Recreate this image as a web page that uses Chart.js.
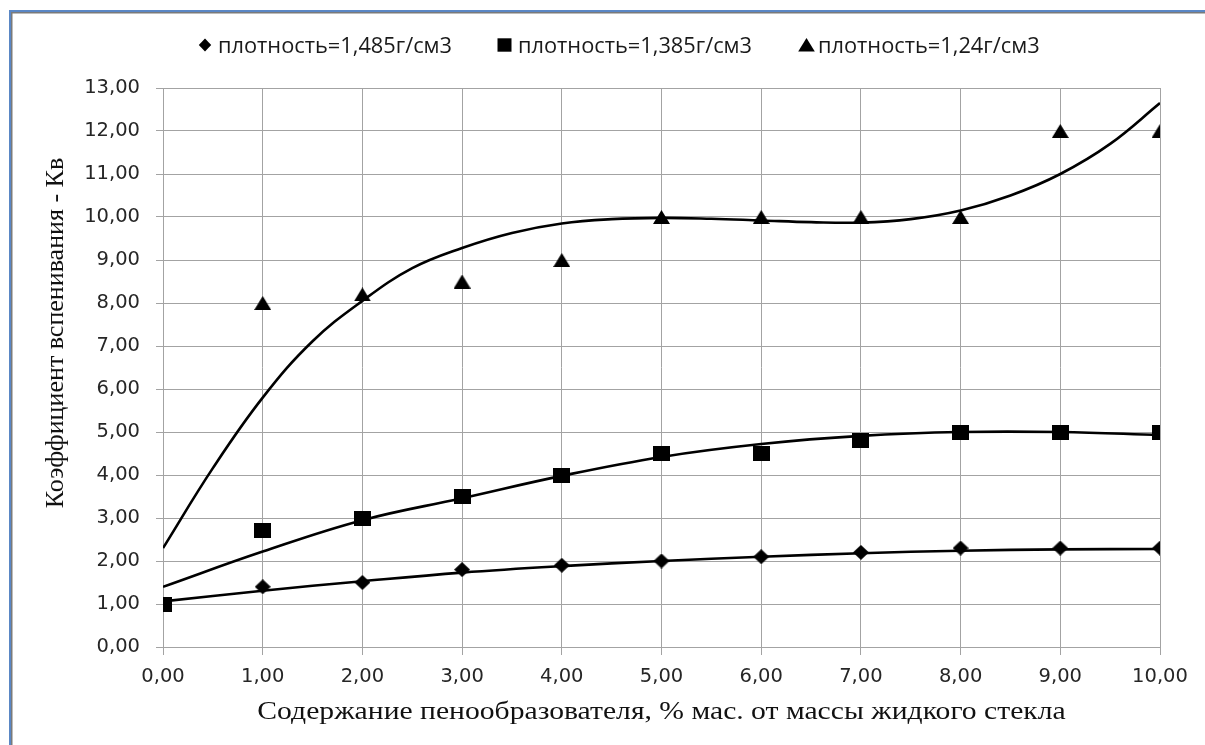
<!DOCTYPE html>
<html>
<head>
<meta charset="utf-8">
<script src="https://cdn.jsdelivr.net/npm/chart.js@4.4.1/dist/chart.umd.min.js"></script>
<style>
html,body{margin:0;padding:0;background:#ffffff;}
canvas{display:block;}
</style>
</head>
<body>
<canvas id="chart" width="1205" height="745"></canvas>
<script>
// ---- data ----
const xValues = [0, 1, 2, 3, 4, 5, 6, 7, 8, 9, 10];
const density1485 = [1.0, 1.4, 1.5, 1.8, 1.9, 2.0, 2.1, 2.2, 2.3, 2.3, 2.3];
const density1385 = [1.0, 2.7, 3.0, 3.5, 4.0, 4.5, 4.5, 4.8, 5.0, 5.0, 5.0];
const density124  = [1.0, 8.0, 8.2, 8.5, 9.0, 10.0, 10.0, 10.0, 10.0, 12.0, 12.0];

// trend lines
const trend1485X = [0, 1, 2, 3, 4, 5, 6, 7, 8, 9, 10];
const trend1485Y = [1.06, 1.31, 1.53, 1.73, 1.88, 2.0, 2.1, 2.18, 2.24, 2.27, 2.28];
const trend1385X = [0, 1, 2, 3, 4, 5, 6, 7, 8, 9, 10];
const trend1385Y = [1.4, 2.22, 2.95, 3.46, 3.98, 4.42, 4.72, 4.91, 5.0, 5.0, 4.93];
const trend124X  = [0, 0.5, 1, 1.5, 2, 2.5, 3, 3.5, 4, 4.5, 5, 5.5, 6, 6.5, 7, 7.5, 8, 8.5, 9, 9.5, 10];
const trend124Y  = [2.3, 4.16, 5.8, 7.11, 8.05, 8.81, 9.28, 9.63, 9.85, 9.95, 9.98, 9.96, 9.92, 9.88, 9.87, 9.95, 10.15, 10.5, 11.0, 11.7, 12.65];

const seriesLabels = ['плотность=1,485г/см3', 'плотность=1,385г/см3', 'плотность=1,24г/см3'];
const xTickLabels = ['0,00','1,00','2,00','3,00','4,00','5,00','6,00','7,00','8,00','9,00','10,00'];
const yTickLabels = ['0,00','1,00','2,00','3,00','4,00','5,00','6,00','7,00','8,00','9,00','10,00','11,00','12,00','13,00'];
const xTitle = 'Содержание пенообразователя, % мас. от массы жидкого стекла';
const yTitle = 'Коэффициент вспенивания - Кв';

// ---- marker images ----
function makeMarker(shape, w, h) {
  const c = document.createElement('canvas');
  c.width = w; c.height = h;
  const g = c.getContext('2d');
  g.fillStyle = '#000000';
  g.beginPath();
  if (shape === 'diamond') {
    g.moveTo(w / 2, 0); g.lineTo(w, h / 2); g.lineTo(w / 2, h); g.lineTo(0, h / 2);
  } else if (shape === 'square') {
    g.rect(0, 0, w, h);
  } else {
    g.moveTo(w / 2, 0); g.lineTo(w, h); g.lineTo(0, h);
  }
  g.closePath();
  g.fill();
  return c;
}
const diamondImg = makeMarker('diamond', 16, 15);
const squareImg = makeMarker('square', 17, 15);
const triangleImg = makeMarker('triangle', 17, 14);

// ---- build datasets ----
const toPts = (xs, ys) => xs.map((x, i) => ({x: x, y: ys[i]}));
const GRID = '#a3a3a3';
const BLACK = '#000000';

const markerSet = (label, ys, img, order) => ({
  label: label,
  data: toPts(xValues, ys),
  showLine: false,
  pointStyle: img,
  pointRadius: 8,
  pointHoverRadius: 8,
  pointBackgroundColor: BLACK,
  pointBorderColor: BLACK,
  pointBorderWidth: 0,
  order: order
});
const trendSet = (xs, ys) => ({
  label: '',
  data: toPts(xs, ys),
  showLine: true,
  borderColor: BLACK,
  borderWidth: 2.6,
  pointRadius: 0,
  tension: 0.4,
  fill: false,
  order: 5
});

// plugin: border frame, legend, axis titles
const decorations = {
  id: 'decorations',
  beforeDraw(chart) {
    const ctx = chart.ctx;
    ctx.save();
    ctx.fillStyle = '#ffffff';
    ctx.fillRect(0, 0, chart.width, chart.height);
    ctx.fillStyle = '#5a87c5';
    ctx.fillRect(9, 10, chart.width - 9, 2);
    ctx.fillRect(9, 10, 2, chart.height - 10);
    ctx.fillStyle = '#7a7a7a';
    ctx.fillRect(11, 12, chart.width - 11, 1.5);
    ctx.fillRect(11, 12, 1.5, chart.height - 12);
    ctx.restore();
  },
  afterDraw(chart) {
    const ctx = chart.ctx;
    const area = chart.chartArea;
    ctx.save();
    // legend
    const legendY = 45;
    const items = [
      {style: 'diamond', cx: 205, tx: 218},
      {style: 'square', cx: 504.5, tx: 518},
      {style: 'triangle', cx: 806.5, tx: 818}
    ];
    items.forEach((it, i) => {
      ctx.fillStyle = BLACK;
      ctx.beginPath();
      if (it.style === 'diamond') {
        ctx.moveTo(it.cx, legendY - 6.5);
        ctx.lineTo(it.cx + 6.2, legendY);
        ctx.lineTo(it.cx, legendY + 6.5);
        ctx.lineTo(it.cx - 6.2, legendY);
      } else if (it.style === 'square') {
        ctx.rect(it.cx - 7, legendY - 6.7, 14, 13.4);
      } else {
        ctx.moveTo(it.cx, legendY - 7);
        ctx.lineTo(it.cx + 8.3, legendY + 6.5);
        ctx.lineTo(it.cx - 8.3, legendY + 6.5);
      }
      ctx.closePath();
      ctx.fill();
      ctx.font = '21.8px "Open Sans"';
      ctx.fillStyle = '#1a1a1a';
      ctx.textBaseline = 'alphabetic';
      ctx.textAlign = 'left';
      ctx.fillText(seriesLabels[i], it.tx, legendY + 7.7);
    });
    // x axis title (slightly widened like the reference)
    ctx.font = '26px "Liberation Serif"';
    ctx.fillStyle = '#111111';
    ctx.textAlign = 'center';
    ctx.textBaseline = 'alphabetic';
    ctx.save();
    ctx.translate((area.left + area.right) / 2, 719);
    ctx.scale(1.14, 1);
    ctx.fillText(xTitle, 0, 0);
    ctx.restore();
    // y axis title
    ctx.save();
    ctx.translate(62.5, 333);
    ctx.rotate(-Math.PI / 2);
    ctx.fillText(yTitle, 0, 0);
    ctx.restore();
    ctx.restore();
  }
};

const chart = new Chart(document.getElementById('chart'), {
  type: 'scatter',
  data: {
    datasets: [
      markerSet(seriesLabels[0], density1485, diamondImg, 2),
      markerSet(seriesLabels[1], density1385, squareImg, 1),
      markerSet(seriesLabels[2], density124, triangleImg, 3),
      trendSet(trend1485X, trend1485Y),
      trendSet(trend1385X, trend1385Y),
      trendSet(trend124X, trend124Y)
    ]
  },
  options: {
    responsive: false,
    animation: false,
    devicePixelRatio: 1,
    layout: {padding: {left: 20, right: 45, top: 88, bottom: 48}},
    plugins: {
      legend: {display: false},
      tooltip: {enabled: false},
      title: {display: false}
    },
    scales: {
      x: {
        type: 'linear',
        min: 0, max: 10,
        afterFit(scale) { scale.height = 50; },
        afterBuildTicks(scale) { scale.ticks = xValues.map(v => ({value: v})); },
        ticks: {
          padding: 10,
          color: '#262626',
          font: {family: '"DejaVu Sans"', size: 19.5},
          maxRotation: 0,
          callback: (v, i) => xTickLabels[i]
        },
        grid: {color: GRID, lineWidth: 1, tickLength: 8, drawTicks: true},
        border: {color: GRID, width: 1}
      },
      y: {
        type: 'linear',
        min: 0, max: 13,
        afterFit(scale) { scale.width = 143; },
        afterBuildTicks(scale) { scale.ticks = yTickLabels.map((t, i) => ({value: i})); },
        ticks: {
          padding: 16,
          color: '#262626',
          font: {family: '"DejaVu Sans"', size: 19.5},
          callback: (v, i) => yTickLabels[i]
        },
        grid: {color: GRID, lineWidth: 1, tickLength: 7, drawTicks: true},
        border: {color: GRID, width: 1}
      }
    }
  },
  plugins: [decorations]
});
</script>
</body>
</html>
